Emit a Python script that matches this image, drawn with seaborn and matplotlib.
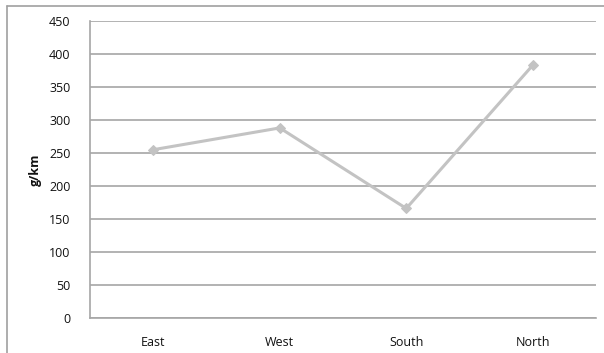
import matplotlib
matplotlib.use("Agg")
import matplotlib.pyplot as plt
from matplotlib.lines import Line2D
import seaborn as sns
import pandas as pd

regions = ["East", "West", "South", "North"]
emissions = [255, 288, 166, 383]
y_ticks = [0, 50, 100, 150, 200, 250, 300, 350, 400, 450]

sns.set_style("white")
plt.rcParams["font.family"] = ["Open Sans", "DejaVu Sans"]

df = pd.DataFrame({"region": regions, "value": emissions})

fig = plt.figure(figsize=(6.04, 3.53), dpi=100)
ax = fig.add_axes([90 / 604, 35 / 353, 506 / 604, 297 / 353])

sns.lineplot(data=df, x="region", y="value", sort=False, ax=ax,
             color="#c3c3c3", linewidth=2.2, marker="D", markersize=5.5,
             markeredgecolor="#c3c3c3", markerfacecolor="#c3c3c3")

ax.set_xlim(-0.5, len(regions) - 0.5)
ax.set_ylim(0, 450)
ax.set_yticks(y_ticks)
ax.yaxis.grid(True, color="#a6a6a6", linewidth=1.2)
ax.set_axisbelow(True)

for side in ("top", "right"):
    ax.spines[side].set_visible(False)
for side in ("left", "bottom"):
    ax.spines[side].set_color("#a6a6a6")
    ax.spines[side].set_linewidth(1.2)

ax.tick_params(axis="both", length=0, labelsize=9, colors="#111111")
ax.tick_params(axis="y", pad=14)
ax.tick_params(axis="x", pad=13)
ax.set_xlabel("")
ax.set_ylabel("g/km", fontsize=9, fontweight="bold", labelpad=5, color="#111111")

# chart area border (top and left edges)
fig.add_artist(Line2D([7 / 604, 1.0], [1 - 6 / 353, 1 - 6 / 353],
                      transform=fig.transFigure, color="#a0a0a0", linewidth=1.2))
fig.add_artist(Line2D([7 / 604, 7 / 604], [0.0, 1 - 6 / 353],
                      transform=fig.transFigure, color="#a0a0a0", linewidth=1.2))

fig.savefig("out.png", dpi=100)
